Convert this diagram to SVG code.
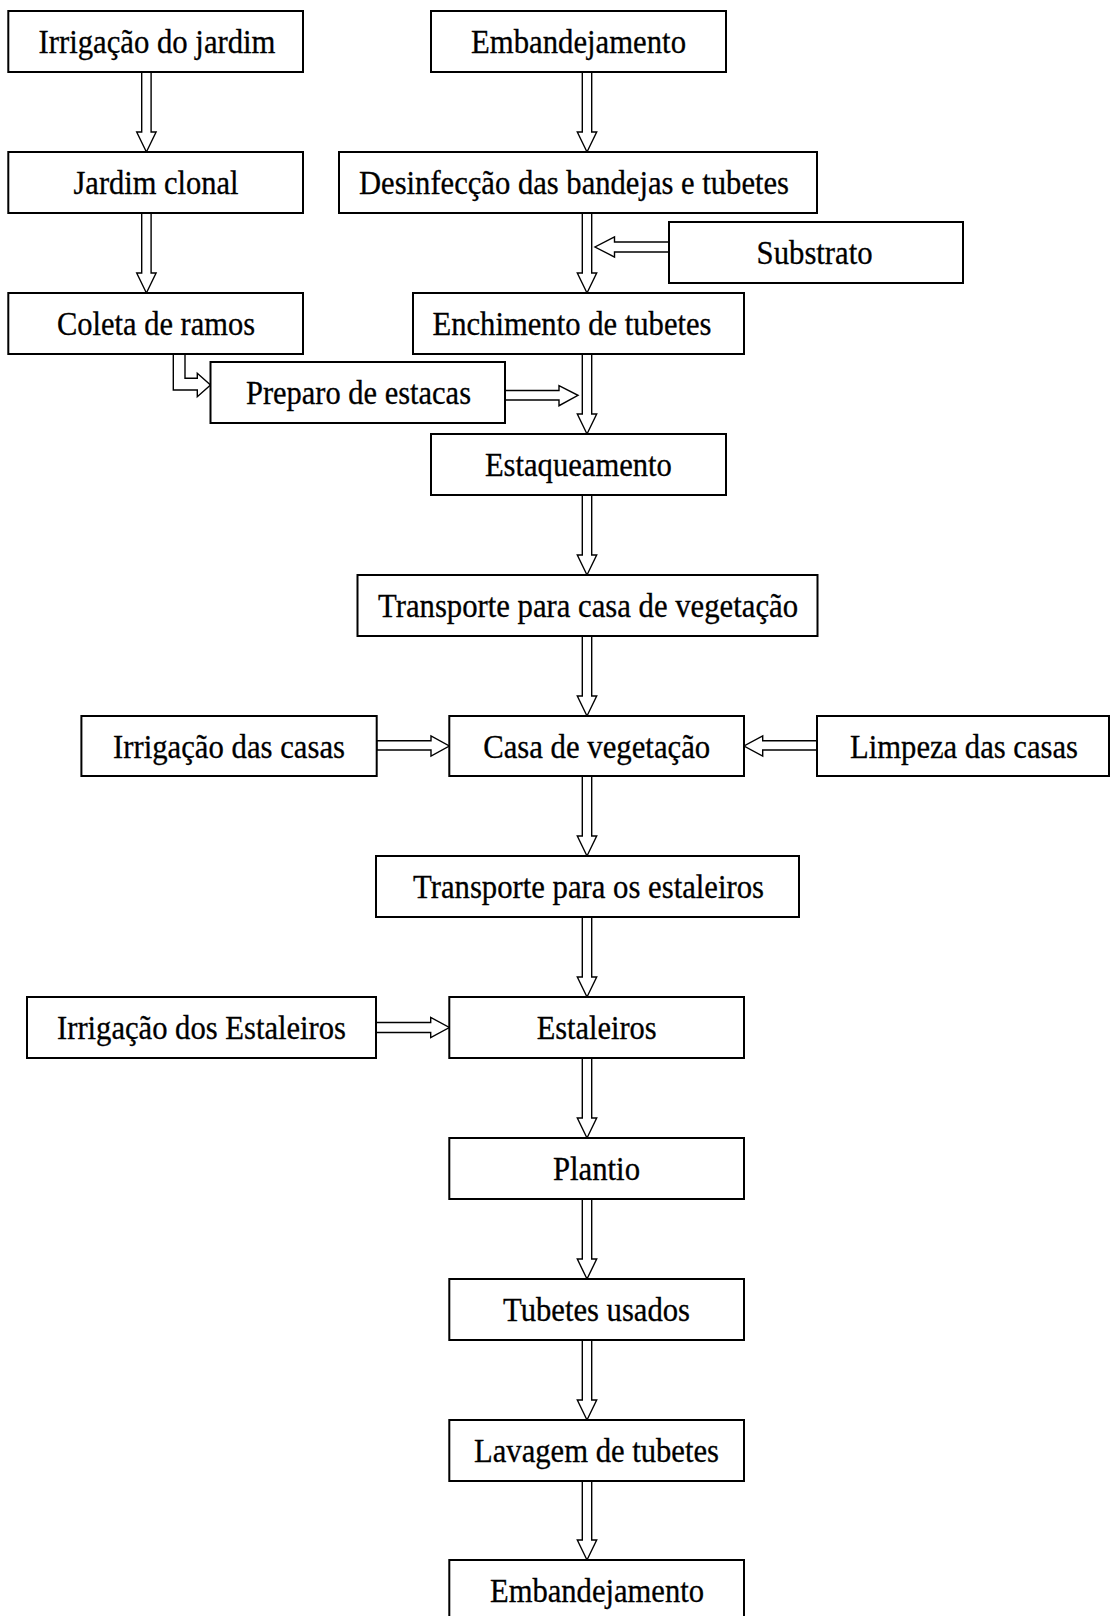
<svg xmlns="http://www.w3.org/2000/svg" width="1110" height="1616" viewBox="0 0 1110 1616">
<style>
.box{fill:#fff;stroke:#000;stroke-width:2}
.t{font-family:"Liberation Serif","Times New Roman",serif;font-size:33px;fill:#000;stroke:#000;stroke-width:0.3;text-anchor:middle}
.arr{fill:#fff;stroke:#000;stroke-width:1.4;stroke-linejoin:miter}
</style>
<rect width="1110" height="1616" fill="#fff"/>
<g id="connectors">
<path class="arr" d="M141.7,72 L151.1,72 L151.1,132 L156.1,132 L146.4,152 L136.7,132 L141.7,132 Z"/>
<path class="arr" d="M141.7,213 L151.1,213 L151.1,273 L156.1,273 L146.4,293 L136.7,273 L141.7,273 Z"/>
<path class="arr" d="M173.3,354 L185,354 L185,378.3 L197.3,378.3 L197.3,373.3 L210.5,385 L197.3,396.7 L197.3,390 L173.3,390 Z"/>
<path class="arr" d="M582.3,72 L591.7,72 L591.7,132 L596.7,132 L587,152 L577.3,132 L582.3,132 Z"/>
<path class="arr" d="M582.3,213 L591.7,213 L591.7,273 L596.7,273 L587,293 L577.3,273 L582.3,273 Z"/>
<path class="arr" d="M582.3,354 L591.7,354 L591.7,414 L596.7,414 L587,434 L577.3,414 L582.3,414 Z"/>
<path class="arr" d="M582.3,495 L591.7,495 L591.7,555 L596.7,555 L587,575 L577.3,555 L582.3,555 Z"/>
<path class="arr" d="M582.3,636 L591.7,636 L591.7,696 L596.7,696 L587,716 L577.3,696 L582.3,696 Z"/>
<path class="arr" d="M582.3,776 L591.7,776 L591.7,836 L596.7,836 L587,856 L577.3,836 L582.3,836 Z"/>
<path class="arr" d="M582.3,917 L591.7,917 L591.7,977 L596.7,977 L587,997 L577.3,977 L582.3,977 Z"/>
<path class="arr" d="M582.3,1058 L591.7,1058 L591.7,1118 L596.7,1118 L587,1138 L577.3,1118 L582.3,1118 Z"/>
<path class="arr" d="M582.3,1199 L591.7,1199 L591.7,1259 L596.7,1259 L587,1279 L577.3,1259 L582.3,1259 Z"/>
<path class="arr" d="M582.3,1340 L591.7,1340 L591.7,1400 L596.7,1400 L587,1420 L577.3,1400 L582.3,1400 Z"/>
<path class="arr" d="M582.3,1481 L591.7,1481 L591.7,1540 L596.7,1540 L587,1560 L577.3,1540 L582.3,1540 Z"/>
<path class="arr" d="M669,242 L614.5,242 L614.5,237 L595,247 L614.5,257 L614.5,252 L669,252 Z"/>
<path class="arr" d="M505,390.5 L559,390.5 L559,385.7 L578,395.3 L559,405.7 L559,400 L505,400 Z"/>
<path class="arr" d="M376.7,740.7 L431,740.7 L431,736 L449.3,746 L431,756 L431,750 L376.7,750 Z"/>
<path class="arr" d="M817,740.7 L762.7,740.7 L762.7,736 L744,746 L762.7,756 L762.7,750 L817,750 Z"/>
<path class="arr" d="M376,1022.5 L430.7,1022.5 L430.7,1017.5 L449.3,1027.5 L430.7,1037.5 L430.7,1032.5 L376,1032.5 Z"/>
</g>
<g id="n-irrigacao-jardim"><rect class="box" x="8.3" y="11" width="294.7" height="61"/><text class="t" x="157" y="53" textLength="237" lengthAdjust="spacingAndGlyphs">Irrigação do jardim</text></g>
<g id="n-jardim-clonal"><rect class="box" x="8.3" y="152" width="294.7" height="61"/><text class="t" x="156" y="194" textLength="165" lengthAdjust="spacingAndGlyphs">Jardim clonal</text></g>
<g id="n-coleta"><rect class="box" x="8.3" y="293" width="294.7" height="61"/><text class="t" x="156" y="335" textLength="198" lengthAdjust="spacingAndGlyphs">Coleta de ramos</text></g>
<g id="n-preparo"><rect class="box" x="210.5" y="362" width="294.5" height="61"/><text class="t" x="358.5" y="404" textLength="225" lengthAdjust="spacingAndGlyphs">Preparo de estacas</text></g>
<g id="n-embandejamento-1"><rect class="box" x="431" y="11" width="295" height="61"/><text class="t" x="578.5" y="53" textLength="215" lengthAdjust="spacingAndGlyphs">Embandejamento</text></g>
<g id="n-desinfeccao"><rect class="box" x="339" y="152" width="478" height="61"/><text class="t" x="574" y="194" textLength="430" lengthAdjust="spacingAndGlyphs">Desinfecção das bandejas e tubetes</text></g>
<g id="n-substrato"><rect class="box" x="669" y="222" width="294" height="61"/><text class="t" x="814.6" y="264" textLength="116" lengthAdjust="spacingAndGlyphs">Substrato</text></g>
<g id="n-enchimento"><rect class="box" x="413" y="293" width="331" height="61"/><text class="t" x="572" y="335" textLength="279" lengthAdjust="spacingAndGlyphs">Enchimento de tubetes</text></g>
<g id="n-estaqueamento"><rect class="box" x="431" y="434" width="295" height="61"/><text class="t" x="578.4" y="476" textLength="187" lengthAdjust="spacingAndGlyphs">Estaqueamento</text></g>
<g id="n-transporte-casa"><rect class="box" x="357.5" y="575" width="460" height="61"/><text class="t" x="588" y="617" textLength="420" lengthAdjust="spacingAndGlyphs">Transporte para casa de vegetação</text></g>
<g id="n-irrigacao-casas"><rect class="box" x="81.4" y="716" width="295.3" height="60"/><text class="t" x="229" y="758" textLength="232" lengthAdjust="spacingAndGlyphs">Irrigação das casas</text></g>
<g id="n-casa"><rect class="box" x="449.3" y="716" width="294.7" height="60"/><text class="t" x="596.7" y="758" textLength="227" lengthAdjust="spacingAndGlyphs">Casa de vegetação</text></g>
<g id="n-limpeza"><rect class="box" x="817" y="716" width="292" height="60"/><text class="t" x="964" y="758" textLength="228" lengthAdjust="spacingAndGlyphs">Limpeza das casas</text></g>
<g id="n-transporte-estaleiros"><rect class="box" x="376" y="856" width="423" height="61"/><text class="t" x="588.5" y="898" textLength="351" lengthAdjust="spacingAndGlyphs">Transporte para os estaleiros</text></g>
<g id="n-irrigacao-estaleiros"><rect class="box" x="27" y="997" width="349" height="61"/><text class="t" x="201.5" y="1039" textLength="289" lengthAdjust="spacingAndGlyphs">Irrigação dos Estaleiros</text></g>
<g id="n-estaleiros"><rect class="box" x="449.3" y="997" width="294.7" height="61"/><text class="t" x="596.7" y="1039" textLength="120" lengthAdjust="spacingAndGlyphs">Estaleiros</text></g>
<g id="n-plantio"><rect class="box" x="449.3" y="1138" width="294.7" height="61"/><text class="t" x="596.5" y="1180" textLength="87" lengthAdjust="spacingAndGlyphs">Plantio</text></g>
<g id="n-tubetes-usados"><rect class="box" x="449.3" y="1279" width="294.7" height="61"/><text class="t" x="596.5" y="1321" textLength="187" lengthAdjust="spacingAndGlyphs">Tubetes usados</text></g>
<g id="n-lavagem"><rect class="box" x="449.3" y="1420" width="294.7" height="61"/><text class="t" x="596.5" y="1462" textLength="245" lengthAdjust="spacingAndGlyphs">Lavagem de tubetes</text></g>
<g id="n-embandejamento-2"><rect class="box" x="449.3" y="1560" width="294.7" height="70"/><text class="t" x="597" y="1602" textLength="214" lengthAdjust="spacingAndGlyphs">Embandejamento</text></g>
</svg>
